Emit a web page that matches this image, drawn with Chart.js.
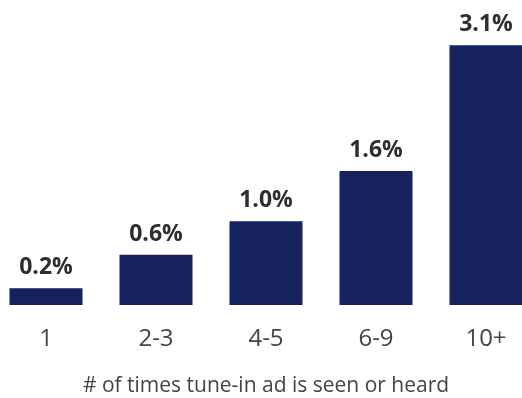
<!DOCTYPE html>
<html>
<head>
<meta charset="utf-8">
<script src="https://cdn.jsdelivr.net/npm/chart.js@4.4.1/dist/chart.umd.min.js"></script>
<style>
  html, body { margin: 0; padding: 0; background: #fff; overflow: hidden; }
  #wrap { position: relative; width: 522px; height: 398px; overflow: hidden; }
  #box { position: absolute; left: -9px; top: 0; width: 550px; height: 398px; }
</style>
</head>
<body>
<div id="wrap"><div id="box"><canvas id="adChart"></canvas></div></div>
<script>
// data
const categories = ["1", "2-3", "4-5", "6-9", "10+"];
const liftValues = [0.2, 0.6, 1.0, 1.6, 3.1];
const axisTitle = "# of times tune-in ad is seen or heard";

// draw the % labels above each bar
const valueLabels = {
  id: "valueLabels",
  afterDatasetsDraw(chart) {
    const ctx = chart.ctx;
    const meta = chart.getDatasetMeta(0);
    ctx.save();
    ctx.font = "bold 23px 'Open Sans', sans-serif";
    ctx.fillStyle = "#2e2e2e";
    ctx.textAlign = "center";
    ctx.textBaseline = "bottom";
    meta.data.forEach((bar, i) => {
      ctx.fillText(liftValues[i].toFixed(1) + "%", bar.x, bar.y - 9);
    });
    ctx.restore();
  },
};

var ctx = document.getElementById("adChart").getContext("2d");
var adChart = new Chart(ctx, {
  type: "bar",
  data: {
    labels: categories,
    datasets: [
      {
        data: liftValues,
        backgroundColor: "#16225e",
        barPercentage: 0.664,
        categoryPercentage: 1,
      },
    ],
  },
  options: {
    responsive: true,
    maintainAspectRatio: false,
    animation: false,
    layout: { padding: 0 },
    plugins: {
      legend: { display: false },
      tooltip: { enabled: false },
    },
    scales: {
      x: {
        grid: { display: false, drawTicks: false },
        border: { display: false },
        ticks: {
          color: "#444",
          padding: 20,
          font: { family: "'Open Sans', sans-serif", size: 24 },
        },
        title: {
          display: true,
          text: axisTitle,
          color: "#444",
          padding: { top: 0, bottom: -1 },
          font: { family: "'Open Sans', sans-serif", size: 21 },
        },
      },
      y: {
        display: false,
        min: 0,
        max: 3.64,
      },
    },
  },
  plugins: [valueLabels],
});
</script>
</body>
</html>
